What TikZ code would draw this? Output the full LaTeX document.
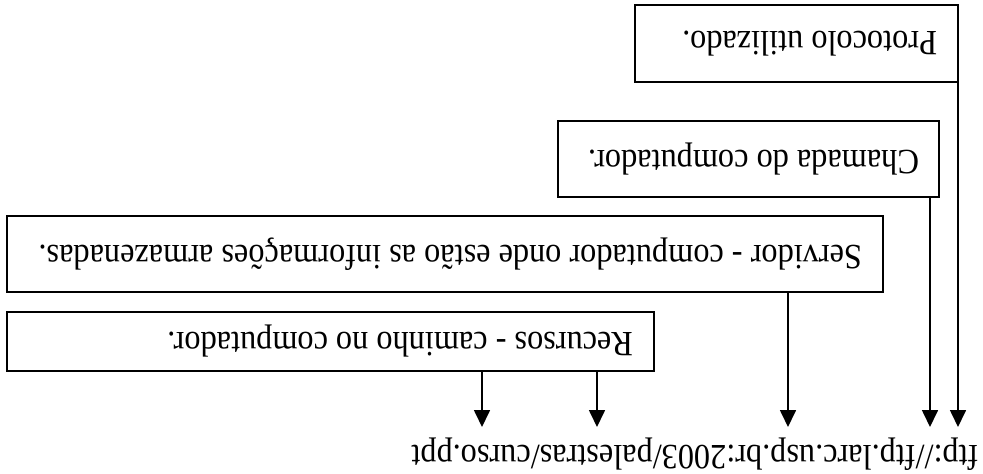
\documentclass[tikz,border=0pt]{standalone}
\usepackage{fontspec}
\setmainfont{Liberation Serif}
\usetikzlibrary{arrows.meta}
% upside-down label of a given width, left-aligned before turning
\newcommand{\fliptext}[2]{\rotatebox[origin=c]{180}{\scalebox{1}[1.1]{\makebox[#1][l]{#2}}}}
\tikzset{
  infobox/.style={draw, line width=1.9pt, inner sep=0pt, anchor=center,
    font=\fontsize{32.3}{37}\selectfont},
  pointer/.style={line width=1.7pt, -{Triangle[width=16pt,length=17pt]}},
}
\begin{document}
\begin{tikzpicture}[x=1pt, y=-1pt]
  \useasboundingbox (0,0) rectangle (983,474);
  \fill[white] (0,0) rectangle (983,474);

  \node[infobox, minimum width=323pt, minimum height=77pt] (prot) at (796.5,43.5)
    {\fliptext{281pt}{Protocolo utilizado.}};
  \node[infobox, minimum width=381pt, minimum height=76pt] (cham) at (748.5,159)
    {\fliptext{341pt}{Chamada do computador.}};
  \node[infobox, minimum width=876pt, minimum height=76pt] (serv) at (445,254)
    {\fliptext{834pt}{Servidor - computador onde estão as informações armazenadas.}};
  \node[infobox, minimum width=647pt, minimum height=59pt] (rec) at (330.5,341.5)
    {\fliptext{605pt}{Recursos - caminho no computador.}};

  \node[font=\fontsize{32.3}{37}\selectfont, inner sep=0pt] (url) at (695,454)
    {\rotatebox[origin=c]{180}{\scalebox{1}[1.1]{ftp://ftp.larc.usp.br:2003/palestras/curso.ppt}}};

  % arrow ends just above the address
  \coordinate (pA) at (958,427);
  \coordinate (pB) at (930,427);
  \coordinate (pC) at (788,427);
  \coordinate (pD) at (597,427);
  \coordinate (pE) at (482,427);

  \draw[pointer] (prot.south -| pA) -- (pA);
  \draw[pointer] (cham.south -| pB) -- (pB);
  \draw[pointer] (serv.south -| pC) -- (pC);
  \draw[pointer] (rec.south -| pD) -- (pD);
  \draw[pointer] (rec.south -| pE) -- (pE);
\end{tikzpicture}
\end{document}
